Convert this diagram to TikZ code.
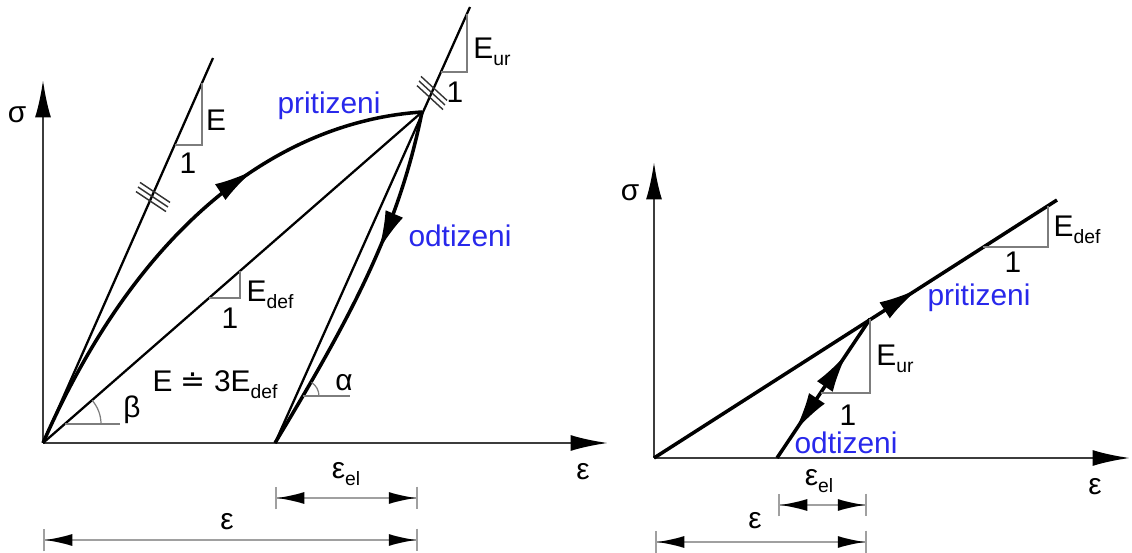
\documentclass[tikz,border=0pt]{standalone}
\usepackage{fontspec}
\setmainfont{Liberation Sans}
\newfontfamily\dotfont{DejaVu Sans}
\usetikzlibrary{arrows.meta, calc, decorations.markings}
\definecolor{diagBlue}{RGB}{40,40,235}
\definecolor{axisGray}{RGB}{60,60,60}
\definecolor{dimGray}{RGB}{160,160,160}
\definecolor{slopeGray}{RGB}{125,125,125}
\newcommand{\lowidx}[1]{\raisebox{-0.45ex}{\fontsize{11}{12}\selectfont #1}}

\begin{document}
\begin{tikzpicture}[
    x=0.02cm, y=-0.02cm,
    axisline/.style={draw=axisGray, line width=1.4pt, -{Latex[length=0.75cm, width=0.32cm, color=black]}},
    dimline/.style={draw=dimGray, line width=1pt,
                {Bar[width=0.46cm]Latex[length=0.55cm, width=0.24cm, color=black]}-{Latex[length=0.55cm, width=0.24cm, color=black]Bar[width=0.46cm]}},
    thinline/.style={draw=black, line width=1.3pt},
    thickline/.style={draw=black, line width=2pt},
    slopeline/.style={draw=slopeGray, line width=0.7pt},
    hatch/.style={draw=black!80, line width=0.8pt},
    lab/.style={inner sep=0pt, font=\fontsize{17}{20}\selectfont},
    blab/.style={lab, text=diagBlue},
    midarrow/.style={postaction={decorate}, decoration={markings,
                mark=at position #1 with {\arrow{Latex[length=0.8cm, width=0.38cm]}}}},
    twoarrows/.style 2 args={postaction={decorate}, decoration={markings,
                mark=at position #1 with {\arrowreversed{Latex[length=0.8cm, width=0.38cm]}},
                mark=at position #2 with {\arrow{Latex[length=0.8cm, width=0.38cm]}}}},
  ]
    \useasboundingbox (0,0) rectangle (1132,553);

    \coordinate (O) at (43,443);
    \coordinate (sigTipA) at (43,80);
    \coordinate (epsTipA) at (608,443);
    \coordinate (Etop) at (213,58);
    \coordinate (P) at (422,112);
    \coordinate (B) at (275,443);
    \coordinate (URtop) at (470,7);
    \coordinate (hE) at (153,197);
    \coordinate (hU) at (432,93);

    \draw[axisline] (O) -- (sigTipA);
    \draw[axisline] (O) -- (epsTipA);
    \draw[thinline] (O) -- (Etop);
    \draw[thinline] (O) -- (P);
    \draw[thinline] (B) -- (URtop);
    \draw[thickline, midarrow=0.66] (O) .. controls (150,200) and (300,120) .. (P);
    \draw[thickline, midarrow=0.4] (P) .. controls (398,232) and (347,323) .. (B);

    \foreach \s in {-5,0,5}
      \draw[hatch] ($(hE)+(\s*0.404,-\s*0.915)+(-15,-10)$) -- ++(30,20);
    \foreach \s in {-5,0,5}
      \draw[hatch] ($(hU)+(\s*0.408,-\s*0.913)+(-13,-12)$) -- ++(26,24);

    \draw[slopeline] (175,145) -| (202,83);
    \draw[slopeline] (209,298) -| (240,271);
    \draw[slopeline] (441,72) -| (467,14);
    \draw[slopeline] (65,424) -- (120,424);
    \draw[slopeline] (65,424) ++(36,0) arc (0:-41:36);
    \draw[slopeline] (303,396) -- (350,396);
    \draw[slopeline] (303,396) ++(16,0) arc (0:-58:16);

    \node[lab] (sigA) at (17,115) {σ};
    \node[lab] (epsA) at (583,472) {ε};
    \node[lab] (labE) at (216,120) {E};
    \node[lab] (oneE) at (188,163) {1};
    \node[lab] (labEdef) at (270,295) {E\lowidx{def}};
    \node[lab] (oneDef) at (230,318) {1};
    \node[lab] (labBeta) at (132,410) {β};
    \node[lab] (labRatio) at (215,385) {E {\dotfont ≐} 3E\lowidx{def}};
    \node[blab] (priA) at (329,106) {pritizeni};
    \node[blab] (odtA) at (460,236) {odtizeni};
    \node[lab] (labEur) at (492,52) {E\lowidx{ur}};
    \node[lab] (oneUr) at (455,92) {1};
    \node[lab] (labAlpha) at (344,383) {α};
    \node[lab] (epsElA) at (346,474) {ε\lowidx{el}};
    \node[lab] (epsTotA) at (227,522) {ε};

    \coordinate (dA1) at (43,540);
    \coordinate (dA2) at (418,540);
    \coordinate (dA3) at (275,498);
    \coordinate (dA4) at (418,498);
    \draw[dimline] (dA3) -- (dA4);
    \draw[dimline] (dA1) -- (dA2);

    \coordinate (O2) at (654,458);
    \coordinate (sigTipB) at (654,162);
    \coordinate (epsTipB) at (1130,458);
    \coordinate (T2) at (1057,200);
    \coordinate (Q) at (870,319);
    \coordinate (B2) at (777,458);

    \draw[axisline] (O2) -- (sigTipB);
    \draw[axisline] (O2) -- (epsTipB);
    \draw[thickline, midarrow=0.656] (O2) -- (T2);
    \draw[thickline, twoarrows={0.19}{0.755}] (B2) -- (Q);

    \draw[slopeline] (983,247) -| (1048,206);
    \draw[slopeline] (821,393) -| (Q);

    \node[lab] (sigB) at (630,193) {σ};
    \node[lab] (epsB) at (1095,487) {ε};
    \node[lab] (labEdefB) at (1077,230) {E\lowidx{def}};
    \node[lab] (oneDefB) at (1013,262) {1};
    \node[blab] (priB) at (979,298) {pritizeni};
    \node[lab] (labEurB) at (895,359) {E\lowidx{ur}};
    \node[lab] (oneUrB) at (848,415) {1};
    \node[blab] (odtB) at (846,443) {odtizeni};
    \node[lab] (epsElB) at (819,481) {ε\lowidx{el}};
    \node[lab] (epsTotB) at (755,521) {ε};

    \coordinate (dB1) at (655,542);
    \coordinate (dB2) at (867,542);
    \coordinate (dB3) at (778,505);
    \coordinate (dB4) at (867,505);
    \draw[dimline] (dB3) -- (dB4);
    \draw[dimline] (dB1) -- (dB2);
\end{tikzpicture}
\end{document}
